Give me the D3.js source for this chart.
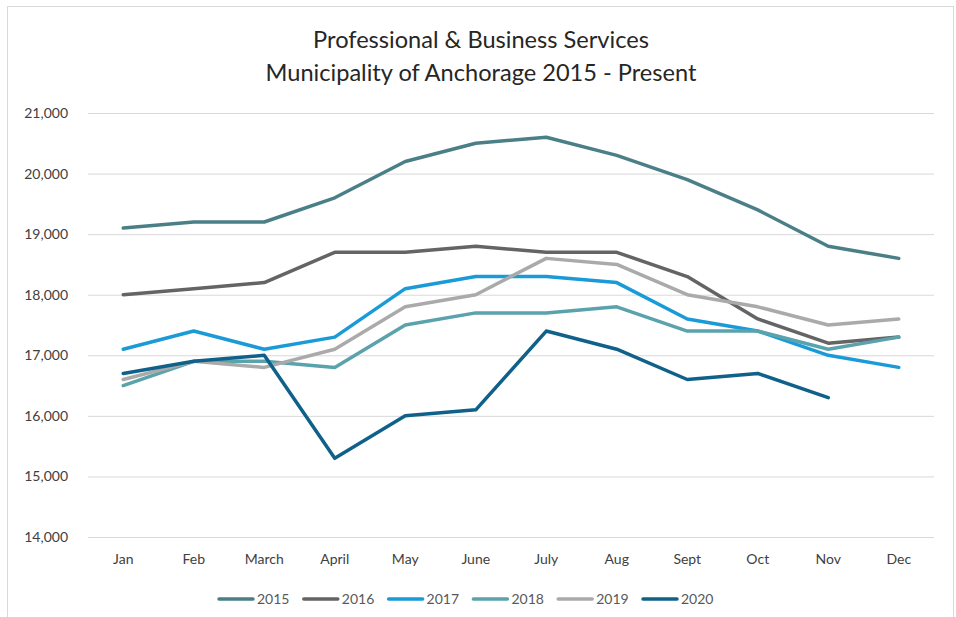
<!DOCTYPE html>
<html>
<head>
<meta charset="utf-8">
<script src="https://cdn.jsdelivr.net/npm/d3@7"></script>
<style>
  body { margin: 0; background: #fff; }
  svg { font-family: Lato, "Open Sans", sans-serif; }
</style>
</head>
<body>
<svg id="chart" width="956" height="617"></svg>
<script>
const months = ["Jan", "Feb", "March", "April", "May", "June", "July", "Aug", "Sept", "Oct", "Nov", "Dec"];
const years = ["2015", "2016", "2017", "2018", "2019", "2020"];
const colors = ["#4b7f87", "#646464", "#1a9bd7", "#5aa3ad", "#aaaaaa", "#0f6189"];

const v2015 = [19100, 19200, 19200, 19600, 20200, 20500, 20600, 20300, 19900, 19400, 18800, 18600];
const v2016 = [18000, 18100, 18200, 18700, 18700, 18800, 18700, 18700, 18300, 17600, 17200, 17300];
const v2017 = [17100, 17400, 17100, 17300, 18100, 18300, 18300, 18200, 17600, 17400, 17000, 16800];
const v2018 = [16500, 16900, 16900, 16800, 17500, 17700, 17700, 17800, 17400, 17400, 17100, 17300];
const v2019 = [16600, 16900, 16800, 17100, 17800, 18000, 18600, 18500, 18000, 17800, 17500, 17600];
const v2020 = [16700, 16900, 17000, 15300, 16000, 16100, 17400, 17100, 16600, 16700, 16300, null];
const yTicks = [14000, 15000, 16000, 17000, 18000, 19000, 20000, 21000];

const series = [v2015, v2016, v2017, v2018, v2019, v2020];

const plotLeft = 88, plotRight = 934, plotTop = 113, plotBottom = 537;

const svg = d3.select("#chart");

// outer frame
svg.append("rect")
  .attr("x", 7.5).attr("y", 6.5)
  .attr("width", 946).attr("height", 620)
  .attr("fill", "none")
  .attr("stroke", "#d9d9d9");

// title
const title = svg.append("text")
  .attr("text-anchor", "middle")
  .attr("fill", "#262626")
  .style("font-size", "23.6px");
title.append("tspan").attr("x", 481).attr("y", 48).text("Professional & Business Services");
title.append("tspan").attr("x", 481).attr("y", 81).text("Municipality of Anchorage 2015 - Present");

const x = d3.scaleBand()
  .domain(months)
  .range([plotLeft, plotRight]);

const y = d3.scaleLinear()
  .domain([14000, 21000])
  .range([plotBottom, plotTop]);

// gridlines
svg.append("g")
  .selectAll("line")
  .data(yTicks)
  .join("line")
  .attr("x1", plotLeft).attr("x2", plotRight)
  .attr("y1", d => y(d) + 0.5).attr("y2", d => y(d) + 0.5)
  .attr("stroke", "#d9d9d9")
  .attr("stroke-width", 1);

// y axis labels
const yAxis = d3.axisLeft(y)
  .tickValues(yTicks)
  .tickFormat(d3.format(","))
  .tickSize(0)
  .tickPadding(20);

svg.append("g")
  .attr("transform", `translate(${plotLeft}, 0)`)
  .call(yAxis)
  .call(g => g.select(".domain").remove())
  .call(g => g.selectAll("text")
    .attr("fill", "#404040")
    .style("font-size", "14px")
    .style("font-family", "Lato, sans-serif"));

// x axis labels
const xAxis = d3.axisBottom(x).tickSize(0).tickPadding(17);

svg.append("g")
  .attr("transform", `translate(0, ${plotBottom})`)
  .call(xAxis)
  .call(g => g.select(".domain").remove())
  .call(g => g.selectAll("text")
    .attr("fill", "#404040")
    .style("font-size", "14px")
    .style("font-family", "Lato, sans-serif"));

// lines
const line = d3.line()
  .defined(d => d != null)
  .x((d, i) => x(months[i]) + x.bandwidth() / 2)
  .y(d => y(d));

svg.append("g")
  .selectAll("path")
  .data(series)
  .join("path")
  .attr("d", d => line(d))
  .attr("fill", "none")
  .attr("stroke", (d, i) => colors[i])
  .attr("stroke-width", 3.5)
  .attr("stroke-linejoin", "round")
  .attr("stroke-linecap", "round");

// legend
const legend = svg.append("g")
  .attr("transform", "translate(219, 599)");

const item = legend.selectAll("g")
  .data(years)
  .join("g")
  .attr("transform", (d, i) => `translate(${i * 84.8}, 0)`);

item.append("line")
  .attr("x1", 0).attr("x2", 34)
  .attr("y1", 0).attr("y2", 0)
  .attr("stroke", (d, i) => colors[i])
  .attr("stroke-width", 3.5)
  .attr("stroke-linecap", "round");

item.append("text")
  .attr("x", 38)
  .attr("y", 5)
  .attr("fill", "#595959")
  .style("font-size", "14px")
  .text(d => d);
</script>
</body>
</html>
